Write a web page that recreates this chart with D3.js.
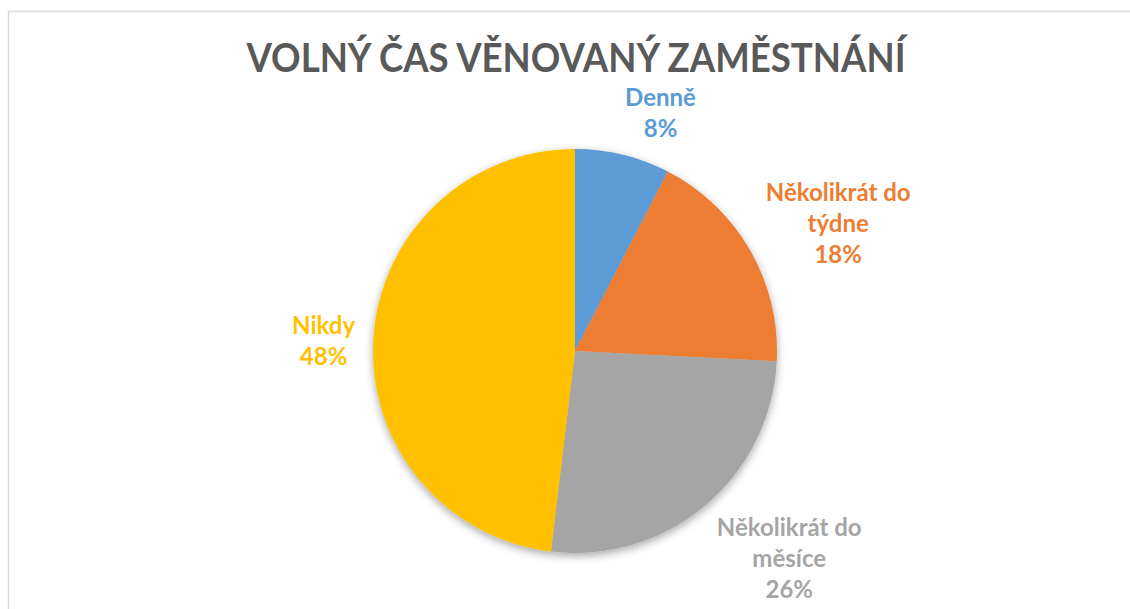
<!DOCTYPE html>
<html lang="cs">
<head>
  <meta charset="UTF-8" />
  <title>Volný čas věnovaný zaměstnání</title>
  <style>
    body { margin: 0; background: #fff; }
    svg { display: block; }
  </style>
</head>
<body>
  <svg width="1130" height="609"></svg>

  <script src="https://d3js.org/d3.v7.min.js"></script>
  <script>
    // Categories and their shares
    const categories = ['Denně', 'Několikrát do týdne', 'Několikrát do měsíce', 'Nikdy'];
    const values = [7.6, 18.2, 26.1, 48.1];
    const colors = ['#5B9BD5', '#ED7D31', '#A5A5A5', '#FFC000'];
    // how each label is broken into lines
    const labelLines = [['Denně'], ['Několikrát do', 'týdne'], ['Několikrát do', 'měsíce'], ['Nikdy']];

    const width = 1130, height = 609;
    const cx = 575, cy = 351, radius = 202;
    const font = 'Lato, Calibri, "Open Sans", sans-serif';

    const svg = d3.select('svg');

    // chart area frame (runs off the right and bottom edges)
    svg.append('rect')
      .attr('x', 8.5).attr('y', 11.5)
      .attr('width', width + 20).attr('height', height + 20)
      .attr('fill', '#fff')
      .attr('stroke', '#d9d9d9')
      .attr('stroke-width', 1.5);

    // soft shadow under the pie
    const defs = svg.append('defs');
    const filter = defs.append('filter')
      .attr('id', 'shadow')
      .attr('x', '-20%').attr('y', '-20%')
      .attr('width', '140%').attr('height', '140%');
    filter.append('feDropShadow')
      .attr('dx', 0).attr('dy', 3)
      .attr('stdDeviation', 4)
      .attr('flood-color', '#000')
      .attr('flood-opacity', 0.35);

    // title
    svg.append('text')
      .attr('x', 576)
      .attr('y', 72)
      .attr('text-anchor', 'middle')
      .attr('font-family', font)
      .attr('font-weight', 700)
      .attr('font-size', 40)
      .attr('fill', '#595959')
      .attr('textLength', 659)
      .attr('lengthAdjust', 'spacingAndGlyphs')
      .text('VOLNÝ ČAS VĚNOVANÝ ZAMĚSTNÁNÍ');

    const data = categories.map((c, i) => ({ name: c, value: values[i], color: colors[i], lines: labelLines[i] }));
    const total = d3.sum(values);

    const pie = d3.pie().sort(null).value(d => d.value);
    const arc = d3.arc().innerRadius(0).outerRadius(radius);
    const arcs = pie(data);

    const g = svg.append('g').attr('transform', `translate(${cx},${cy})`);

    g.append('g')
      .attr('filter', 'url(#shadow)')
      .selectAll('path')
      .data(arcs)
      .enter().append('path')
      .attr('d', arc)
      .attr('fill', d => d.data.color);

    // data labels outside the pie, placed along each slice's middle angle
    const pct = d3.format('.0%');
    const fontSize = 24, lineH = 31, gap = 18, dropY = 4;

    const labels = g.selectAll('g.label')
      .data(arcs)
      .enter().append('g')
      .attr('class', 'label');

    labels.each(function (d) {
      const lab = d3.select(this);
      const lines = d.data.lines.concat([pct(d.data.value / total)]);
      const t = lab.append('text')
        .attr('text-anchor', 'middle')
        .attr('font-family', font)
        .attr('font-weight', 700)
        .attr('font-size', fontSize)
        .attr('fill', d.data.color);
      lines.forEach((ln, i) => {
        t.append('tspan').attr('x', 0).attr('y', i * lineH).text(ln);
      });
      const bb = t.node().getBBox();
      const a = (d.startAngle + d.endAngle) / 2;
      const ux = Math.sin(a), uy = -Math.cos(a);
      // box sits beside the anchor horizontally, slides vertically with the angle
      const fx = Math.max(-1, Math.min(1, ux * 4));
      const bx = ux * (radius + gap) + fx * bb.width / 2;
      const by = uy * (radius + gap) + uy * bb.height / 2 + dropY;
      const ox = bx - (bb.x + bb.width / 2);
      const oy = by - (bb.y + bb.height / 2);
      lab.attr('transform', `translate(${ox},${oy})`);
    });
  </script>
</body>
</html>
